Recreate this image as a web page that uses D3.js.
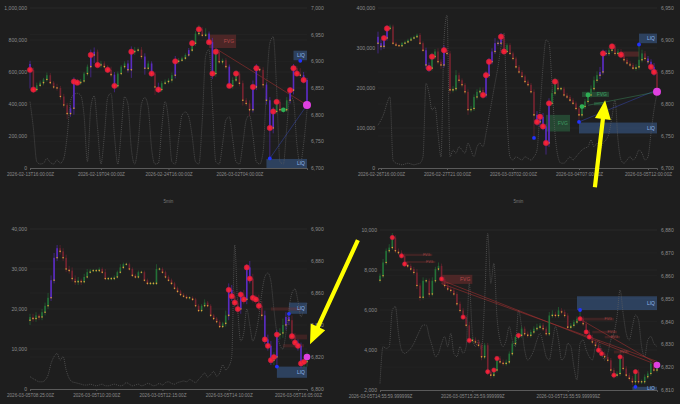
<!DOCTYPE html>
<html>
<head>
<meta charset="utf-8">
<script src="https://cdn.jsdelivr.net/npm/d3@7"></script>
<style>
  html, body { margin: 0; padding: 0; background: #1e1e1e; }
  svg { display: block; font-family: "Liberation Sans", Arial, sans-serif; }
</style>
</head>
<body>
<svg id="chart" width="680" height="404"></svg>
<script>
// ---- panel 1 : 4h ----
const p1Open0 = 6895;
const p1Close = [6884,6847,6855,6860,6866,6874,6860,6852,6850,6834,
  6818,6802,6812,6862,6860,6863,6877,6890,6912,6918,
  6893,6896,6890,6884,6875,6854,6877,6890,6896,6884,
  6918,6921,6922,6909,6887,6896,6877,6852,6847,6859,
  6862,6865,6874,6900,6902,6906,6912,6921,6934,6952,
  6960,6949,6952,6936,6877,6918,6899,6902,6890,6854,
  6865,6877,6859,6827,6821,6809,6852,6887,6884,6856,
  6827,6775,6806,6824,6809,6809,6827,6846,6887,6877,
  6874,6865,6818];
const p1Up = [6,4,5,4,3,5,4,3,6,4, 5,4,6,8,5,4,3,4,10,8, 4,5,4,3,6,5,4,3,4,6,
  10,6,4,5,6,5,4,3,8,4, 4,3,5,10,4,3,3,4,6,5, 8,4,10,4,8,6,4,3,4,4,
  5,6,4,5,4,6,12,8,4,5, 4,6,8,5,5,4,6,5,8,4, 10,6,4];
const p1Dn = [35,6,4,3,5,4,3,4,5,6, 5,10,6,12,4,4,3,4,20,15, 4,5,4,6,5,12,4,3,4,5,
  15,6,4,5,12,4,5,15,6,4, 3,4,5,6,4,3,4,3,4,5, 4,4,3,5,10,6,4,5,5,4,
  5,4,6,10,5,12,5,6,5,6, 8,57,10,4,5,5,4,6,8,4, 5,6,8];
const p1VolK = [414,250,40,25,30,60,35,25,50,30, 60,200,420,460,467,455,330,40,380,450,
  250,25,200,440,467,200,25,230,445,400, 120,25,150,400,440,380,120,25,30,250,
  415,300,40,25,180,330,350,320,200,40, 25,300,700,740,400,40,25,150,300,320,
  180,40,25,150,300,330,200,40,25,100, 500,780,820,500,40,25,250,450,420,150,
  25,150,360];
const p1Purple = [0,12,13,18,19,25,29,30,34,36,38,43,47,53,54,59,66,67,70,71,72,77,78,81,82];
const p1Red = [0,1,13,14,18,20,23,25,30,36,38,43,48,50,53,54,55,59,61,66,67,71,72,73,77,78,79,81];
const p1Green = [75];
const p1BlueIdx = [71, 80];
const p1BluePx = [6718, 6901];
const p1Zones = [
  {kind: "fvg", i0: 53, i1: 61, lo: 6925, hi: 6950, label: "FVG"},
  {kind: "liq", i0: 78, i1: 82, lo: 6902, hi: 6920, label: "LIQ"},
  {kind: "liq", i0: 70, i1: 82, lo: 6700, hi: 6717, label: "LIQ"}
];
const p1Lines = [
  {kind: "red", i0: 55, p0: 6924, i1: 82, p1: 6818},
  {kind: "blue", i0: 71, p0: 6718, i1: 82, p1: 6818}
];
const p1TimeIdx = [0, 21, 41, 62];
const p1TimeLabels = ["2026-02-13T16:00:00Z", "2026-02-19T04:00:00Z", "2026-02-24T16:00:00Z", "2026-03-02T04:00:00Z"];
const p1VolTicks = [0, 200, 400, 600, 800, 1000];
const p1PxTicks = [6700, 6750, 6800, 6850, 6900, 6950, 7000];

// ---- panel 2 : 1h ----
const p2Open0 = 6905;
const p2Close = [6895,6890,6903,6918,6921,6895,6892,6891,6895,6897,
  6900,6903,6905,6908,6895,6884,6861,6856,6874,6882,
  6866,6861,6884,6879,6822,6824,6845,6837,6830,6819,
  6791,6793,6811,6819,6822,6814,6845,6866,6882,6895,
  6895,6905,6882,6892,6879,6871,6858,6850,6843,6835,
  6830,6819,6783,6772,6780,6765,6739,6801,6817,6835,
  6824,6824,6814,6811,6806,6801,6793,6783,6796,6804,
  6814,6824,6837,6845,6850,6879,6879,6884,6890,6879,
  6882,6877,6869,6864,6861,6856,6858,6869,6879,6871,
  6866,6858,6850,6819];
const p2Up = [8,6,4,5,3,3,2,2,2,2, 2,2,2,2,3,3,4,4,6,4, 5,4,8,4,4,4,8,4,3,3,
  4,4,4,4,4,4,6,6,5,8, 4,6,4,3,3,3,3,3,3,3, 3,3,4,6,4,6,4,8,6,6,
  4,3,3,3,3,3,3,3,4,4, 5,5,6,6,8,6,5,4,4,4, 4,4,4,3,3,3,4,22,6,4, 4,4,6,4];
const p2Dn = [16,6,4,4,3,3,2,2,2,2, 2,2,2,2,3,3,6,6,4,4, 4,6,4,4,6,4,4,4,4,4,
  8,4,4,4,4,6,4,4,4,4, 4,4,4,3,3,3,3,3,3,3, 3,3,36,6,8,6,18,6,4,4,
  4,3,3,3,3,3,3,11,4,4, 4,4,4,4,6,4,4,4,4,4, 4,4,4,3,3,3,4,4,4,4, 4,6,6,6];
const p2VolK = [107,120,137,162,178,20,12,10,8,10, 12,10,8,10,12,28,212,187,145,153,
  87,28,320,382,28,45,37,53,45,37, 62,45,28,53,62,53,87,128,170,212,
  253,303,337,128,28,20,28,24,20,28, 24,20,28,45,145,253,320,312,212,87,
  28,12,12,20,28,20,28,37,45,50, 53,70,53,62,45,62,70,87,128,170,
  70,20,12,20,28,20,28,45,37,20, 28,87,145,187];
const p2Purple = [0,1,2,3,16,17,22,36,37,38,39,40,41,53,54,55,56,57,74,75,76,90,91,92];
const p2Red = [2,3,17,18,22,35,36,37,41,42,53,54,55,56,57,59,75,78,81,91,92];
const p2Green = [68, 70];
const p2BlueIdx = [52, 67, 87];
const p2BluePx = [6747, 6772, 6893];
const p2Zones = [
  {kind: "liq", i0: 87, i1: 93, lo: 6895, hi: 6910, label: "LIQ"},
  {kind: "liq", i0: 67, i1: 93, lo: 6754, hi: 6771, label: "LIQ"},
  {kind: "ob", i0: 56, i1: 64, lo: 6757, hi: 6783, label: "FVG"},
  {kind: "ob", i0: 68, i1: 77, lo: 6811, hi: 6819, label: "FVG"},
  {kind: "ob", i0: 72, i1: 76, lo: 6798, hi: 6803, label: ""},
  {kind: "fvg", i0: 81, i1: 87, lo: 6874, hi: 6882, label: ""}
];
const p2Lines = [
  {kind: "blue", i0: 67, p0: 6772, i1: 93, p1: 6822},
  {kind: "green", i0: 70, p0: 6798, i1: 93, p1: 6819}
];
const p2TimeIdx = [1, 23, 45, 67, 90];
const p2TimeLabels = ["2026-02-26T16:00:00Z", "2026-02-27T21:00:00Z", "2026-03-03T02:00:00Z", "2026-03-04T07:00:00Z", "2026-03-05T12:00:00Z"];
const p2VolTicks = [0, 100, 200, 300, 400];
const p2PxTicks = [6700, 6750, 6800, 6850, 6900, 6950];

// ---- panel 3 : 5min ----
const p3Open0 = 6843;
const p3Close = [6845,6844,6846,6845,6848,6852,6857,6868,6882,6888,
  6886,6882,6875,6874,6869,6867,6868,6867,6870,6873,
  6874,6874,6874,6875,6873,6869,6869,6869,6870,6873,
  6876,6878,6878,6875,6871,6870,6873,6873,6868,6866,
  6866,6866,6875,6875,6873,6870,6868,6866,6863,6861,
  6859,6858,6857,6857,6856,6852,6849,6852,6854,6852,
  6846,6844,6842,6839,6841,6846,6862,6858,6854,6850,
  6859,6856,6876,6869,6857,6856,6852,6846,6831,6827,
  6818,6820,6834,6835,6840,6845,6843,6833,6829,6827,
  6816,6817,6820];
const p3Up = [2,2,2,1,2,2,3,3,3,2, 2,2,2,2,2,2,2,1,2,2, 1,1,1,1,1,2,1,1,1,1,
  2,1,1,1,1,1,1,1,1,1, 1,1,3,1,1,1,1,1,1,1, 1,1,1,1,1,1,1,1,2,1,
  1,1,1,1,1,3,4,3,3,3, 2,3,2,4,3,2,3,3,3,3, 3,3,3,3,4,3,3,3,2,2, 2,3,3];
const p3Dn = [3,2,2,2,2,2,2,2,2,2, 2,2,2,2,2,2,2,2,1,1, 1,1,1,1,1,1,1,1,1,1,
  1,1,1,1,1,1,1,1,1,1, 1,1,1,1,1,1,1,1,1,1, 1,1,1,1,1,1,1,1,1,1,
  1,1,1,1,1,2,3,3,3,3, 3,3,3,3,3,3,3,3,3,3, 3,3,6,3,3,3,3,3,3,3, 3,3,3];
const p3VolK = [3.1,2.6,2.2,1.8,1.8,2.2,3.5,6.4,8.1,8.9, 7.2,8.1,4.8,2.7,1.8,1.6,1.4,1.2,1.0,1.0,
  1.2,1.0,0.8,1.0,1.2,0.8,0.8,1.0,1.2,1.0, 0.8,1.0,1.6,1.2,0.8,1.0,1.2,0.8,1.0,1.4,
  1.2,0.8,1.0,1.4,1.0,1.6,1.8,1.4,1.2,1.6, 1.8,2.0,1.8,2.4,2.0,1.6,2.4,3.2,4.0,3.0,
  3.6,4.4,3.2,4.0,6.0,4.8,5.6,8.0,36.0,20.0, 12.0,14.0,20.0,16.0,12.0,14.0,18.0,24.0,28.0,29.0,
  27.0,20.0,14.0,11.0,10.0,14.0,20.0,24.0,25.0,22.0, 18.0,20.0,21.4];
const p3Purple = [7,8,9,66,67,70,72,73,78,79,80,82,85,86,89,90];
const p3Red = [66,67,68,69,70,71,72,73,74,75,76,78,79,80,81,82,87,88,89,90,91];
const p3Green = [];
const p3BlueIdx = [82, 86];
const p3BluePx = [6814, 6847];
const p3Zones = [
  {kind: "liq", i0: 86, i1: 92, lo: 6847, hi: 6854, label: "LIQ"},
  {kind: "liq", i0: 82, i1: 92, lo: 6807, hi: 6814, label: "LIQ"},
  {kind: "fvgs", i0: 80, i1: 90, lo: 6849, hi: 6851, label: ""},
  {kind: "fvgs", i0: 86, i1: 92, lo: 6831, hi: 6834, label: ""},
  {kind: "fvgs", i0: 84, i1: 91, lo: 6826, hi: 6828, label: ""}
];
const p3Lines = [];
const p3TimeIdx = [0, 22, 44, 66, 89];
const p3TimeLabels = ["2026-03-05T08:25:00Z", "2026-03-05T10:20:00Z", "2026-03-05T12:15:00Z", "2026-03-05T14:10:00Z", "2026-03-05T16:05:00Z"];
const p3VolTicks = [0, 10, 20, 30, 40];
const p3PxTicks = [6800, 6820, 6840, 6860, 6880, 6900];

// ---- panel 4 : 1min ----
const p4Open0 = 6858;
const p4Close = [6860.0,6865.8,6870.9,6872.3,6876.7,6870.9,6870.1,6868.7,6865.1,6864.3,
  6862.9,6861.4,6855.7,6850.6,6857.8,6857.8,6852.0,6857.8,6862.9,6864.3,
  6858.6,6855.7,6854.2,6853.5,6852.0,6847.7,6844.8,6841.9,6838.3,6831.7,
  6832.0,6831.0,6829.6,6824.5,6829.6,6818.0,6816.5,6818.7,6823.8,6822.3,
  6821.6,6822.3,6825.9,6830.3,6833.2,6833.9,6836.8,6834.6,6833.9,6835.4,
  6836.8,6837.5,6838.3,6836.8,6834.6,6842.6,6843.3,6842.6,6844.8,6844.1,
  6842.6,6837.5,6838.3,6839.7,6841.2,6841.2,6839.0,6835.4,6833.2,6831.0,
  6829.6,6827.4,6825.9,6824.5,6823.0,6818.7,6816.5,6817.2,6824.5,6819.4,
  6816.5,6815.1,6813.6,6818.0,6813.6,6813.6,6815.8,6817.2,6821.6,6818.7,
  6820.9];
const p4Up = [1,1.5,1,1.5,2,1,1,1,1,1, 1,1,1.5,1,1.5,1,1,1.5,1,1.5, 1,1,1,1,1,1,1,1,1,1.5,
  1,1,1,1,1,1,1,1,1,1, 1,1,1,1,1,1,1,1,1,1, 1,1.5,1,1,1,1.5,1.5,1,1.5,1,
  1,1,1,1,1,3.8,1,1,1,1, 1,1,1,1,1,1,1,1,1.5,1, 1,1,1,1,1,1,1,1,1.5,1, 1.5];
const p4Dn = [1,1,1,1,1,1,1,1,1,1, 1,1,1.5,1.5,1,1,1.5,1,1,1, 1,1,1,1,1,1,1,1,1,1.5,
  1,1,1,1.5,1,1.5,1.5,1,1,1, 1,1,1,1,1,1,1,1,1,1, 1,1,1,1,1,1,1,1,1,1,
  1,1,1,1,1,1,1,1,1,1, 1,1,1,1,1,1.5,1.5,1,1,1, 1,1,1.5,2.2,1,1,1,1,1,1, 1];
const p4VolK = [2.33,4.17,4.08,4.17,6.0,6.17,4.83,4.0,3.83,3.92, 4.08,4.33,4.67,5.0,5.25,5.25,4.67,4.17,3.67,3.83,
  4.33,4.67,4.17,4.83,3.83,3.67,4.17,3.83,4.17,7.33, 4.83,4.17,4.5,4.0,6.5,9.83,7.33,8.33,5.67,4.5,
  4.17,4.5,5.17,4.5,4.17,6.0,5.17,4.0,3.5,3.67, 4.0,4.5,4.83,4.33,3.67,3.5,4.33,5.17,4.5,3.5,
  3.67,4.33,4.17,3.17,2.5,4.33,4.5,4.0,3.67,3.5, 4.17,4.5,3.83,3.5,3.83,4.5,4.83,5.67,7.0,5.83,
  4.83,4.5,5.17,5.75,5.5,4.17,3.67,4.5,4.67,4.33, 4.17];
const p4Purple = [];
const p4Red = [4,7,8,20,27,29,35,37,38,45,65,67,68,71,72,76,78,83];
const p4Green = [];
const p4BlueIdx = [65, 83];
const p4BluePx = [6845, 6811.4];
const p4Zones = [
  {kind: "liq", i0: 64, i1: 90, lo: 6845, hi: 6851, label: "LIQ"},
  {kind: "liq", i0: 82, i1: 90, lo: 6809.7, hi: 6811.4, label: "LIQ"},
  {kind: "fvg", i0: 20, i1: 30, lo: 6856.4, hi: 6860.4, label: "FVG"},
  {kind: "fvgs", i0: 8, i1: 17, lo: 6868.6, hi: 6869.6, label: "FVG"},
  {kind: "fvgs", i0: 8, i1: 18, lo: 6865.6, hi: 6866.4, label: "FVG"},
  {kind: "fvgs", i0: 65, i1: 76, lo: 6840.4, hi: 6841.6, label: "FVG"},
  {kind: "fvgs", i0: 69, i1: 77, lo: 6834.8, hi: 6835.9, label: "FVG"},
  {kind: "fvgs", i0: 73, i1: 78, lo: 6832.6, hi: 6833.6, label: "FVG"},
  {kind: "fvgs", i0: 76, i1: 81, lo: 6826.0, hi: 6827.2, label: "FVG"}
];
const p4Lines = [
  {kind: "red", i0: 20, p0: 6858, i1: 90, p1: 6821},
  {kind: "red", i0: 20, p0: 6856.5, i1: 90, p1: 6822.5},
  {kind: "red", i0: 65, p0: 6841, i1: 90, p1: 6821.5}
];
const p4TimeIdx = [0, 30, 61];
const p4TimeLabels = ["2026-03-05T14:55:59.999999Z", "2026-03-05T15:25:59.999999Z", "2026-03-05T15:55:59.999999Z"];
const p4VolTicks = [2, 4, 6, 8, 10];
const p4PxTicks = [6810, 6820, 6830, 6840, 6850, 6860, 6870, 6880];

// yellow call-out arrows, in data units of the panel they start in
const arrows = [
  {panel: 1, i0: 72.3, p0: 6670, i1: 75.7, p1: 6806},
  {panel: 2, i0: 108.9, p0: 6893, i1: 93.0, p1: 6828}
];

const C = {
  up: "#237238", down: "#742330", purple: "#5a2cc0", dot: "#d9a03a",
  red: "#ff1f35", blue: "#2233ff", magenta: "#e040e0", greenDot: "#2fae55",
  text: "#8a8a8a", axis: "#5a5a5a", vol: "#5e5e5e"
};
const zoneStyle = {
  liq: {fill: "#3a5f93", op: 0.55, txt: "#8fb4ea"},
  fvg: {fill: "#7a2e2e", op: 0.5, txt: "#b34a4a"},
  fvgs: {fill: "#7a2e2e", op: 0.35, txt: "#a04545"},
  ob: {fill: "#2f7a4c", op: 0.45, txt: "#3f9a62"}
};
const lineStyle = {
  red: {stroke: "#b83232", op: 0.7},
  blue: {stroke: "#3a4fd0", op: 0.6},
  green: {stroke: "#3f9a62", op: 0.6}
};

const panels = [
  {close: p1Close, open0: p1Open0, up: p1Up, dn: p1Dn, vol: p1VolK, purple: p1Purple, red: p1Red, green: p1Green,
   blueIdx: p1BlueIdx, bluePx: p1BluePx, zones: p1Zones, lines: p1Lines, timeIdx: p1TimeIdx, timeLabels: p1TimeLabels,
   volTicks: p1VolTicks, pxTicks: p1PxTicks, x0: 30, x1: 307, yT: 8, yB: 168, r: 2.7, rm: 4, title: null},
  {close: p2Close, open0: p2Open0, up: p2Up, dn: p2Dn, vol: p2VolK, purple: p2Purple, red: p2Red, green: p2Green,
   blueIdx: p2BlueIdx, bluePx: p2BluePx, zones: p2Zones, lines: p2Lines, timeIdx: p2TimeIdx, timeLabels: p2TimeLabels,
   volTicks: p2VolTicks, pxTicks: p2PxTicks, x0: 378, x1: 657, yT: 8, yB: 168, r: 2.7, rm: 4, title: null},
  {close: p3Close, open0: p3Open0, up: p3Up, dn: p3Dn, vol: p3VolK, purple: p3Purple, red: p3Red, green: p3Green,
   blueIdx: p3BlueIdx, bluePx: p3BluePx, zones: p3Zones, lines: p3Lines, timeIdx: p3TimeIdx, timeLabels: p3TimeLabels,
   volTicks: p3VolTicks, pxTicks: p3PxTicks, x0: 30, x1: 307, yT: 229, yB: 389, r: 2.6, rm: 3.3, title: "5min"},
  {close: p4Close, open0: p4Open0, up: p4Up, dn: p4Dn, vol: p4VolK, purple: p4Purple, red: p4Red, green: p4Green,
   blueIdx: p4BlueIdx, bluePx: p4BluePx, zones: p4Zones, lines: p4Lines, timeIdx: p4TimeIdx, timeLabels: p4TimeLabels,
   volTicks: p4VolTicks, pxTicks: p4PxTicks, x0: 380, x1: 657, yT: 230, yB: 390, r: 2.2, rm: 3.3, title: "5min"}
];

const svg = d3.select("#chart");
svg.append("rect").attr("width", 680).attr("height", 404).attr("fill", "#1e1e1e");

const scales = [];

function drawPanel(cfg) {
  const g = svg.append("g");
  const n = cfg.close.length;
  const x = d3.scaleLinear().domain([0, n - 1]).range([cfg.x0, cfg.x1]);
  const yP = d3.scaleLinear().domain(d3.extent(cfg.pxTicks)).range([cfg.yB, cfg.yT]);
  const yV = d3.scaleLinear().domain(d3.extent(cfg.volTicks)).range([cfg.yB, cfg.yT]);
  scales.push({x, yP});

  const rows = cfg.close.map((c, i) => {
    const o = i ? cfg.close[i - 1] : cfg.open0;
    return {i, o, c, h: Math.max(o, c) + cfg.up[i], l: Math.min(o, c) - cfg.dn[i], v: cfg.vol[i]};
  });
  const purple = new Set(cfg.purple);
  const col = d => purple.has(d.i) ? C.purple : (d.c >= d.o ? C.up : C.down);

  // faint grid
  g.append("g").selectAll("line").data(cfg.volTicks.slice(1)).join("line")
    .attr("x1", cfg.x0).attr("x2", cfg.x1).attr("y1", d => yV(d)).attr("y2", d => yV(d))
    .attr("stroke", "#fff").attr("stroke-opacity", 0.03);
  g.append("g").selectAll("line").data(cfg.pxTicks.slice(1)).join("line")
    .attr("x1", cfg.x0).attr("x2", cfg.x1).attr("y1", d => yP(d)).attr("y2", d => yP(d))
    .attr("stroke", "#fff").attr("stroke-opacity", 0.025);

  // zones
  g.append("g").selectAll("rect").data(cfg.zones).join("rect")
    .attr("x", d => x(d.i0)).attr("width", d => x(d.i1) - x(d.i0))
    .attr("y", d => yP(d.hi)).attr("height", d => Math.max(0.8, yP(d.lo) - yP(d.hi)))
    .attr("fill", d => zoneStyle[d.kind].fill).attr("fill-opacity", d => zoneStyle[d.kind].op);

  // volume line, faint and dotted
  const vline = d3.line().x(d => x(d.i)).y(d => yV(d.v)).curve(d3.curveMonotoneX);
  g.append("path").datum(rows).attr("d", vline)
    .attr("fill", "none").attr("stroke", C.vol).attr("stroke-width", 0.7)
    .attr("stroke-dasharray", "1,1");

  // structure lines
  g.append("g").selectAll("line").data(cfg.lines).join("line")
    .attr("x1", d => x(d.i0)).attr("y1", d => yP(d.p0)).attr("x2", d => x(d.i1)).attr("y2", d => yP(d.p1))
    .attr("stroke", d => lineStyle[d.kind].stroke).attr("stroke-opacity", d => lineStyle[d.kind].op)
    .attr("stroke-width", 0.7);

  // candles
  const bw = 1.6;
  const cg = g.append("g");
  cg.selectAll("line").data(rows).join("line")
    .attr("x1", d => x(d.i)).attr("x2", d => x(d.i)).attr("y1", d => yP(d.h)).attr("y2", d => yP(d.l))
    .attr("stroke", col).attr("stroke-width", 0.6);
  cg.selectAll("rect").data(rows).join("rect")
    .attr("x", d => x(d.i) - bw / 2).attr("width", bw)
    .attr("y", d => yP(Math.max(d.o, d.c)))
    .attr("height", d => Math.max(0.8, Math.abs(yP(d.o) - yP(d.c))))
    .attr("fill", col);

  // small close markers
  g.append("g").selectAll("circle").data(rows).join("circle")
    .attr("cx", d => x(d.i)).attr("cy", d => yP(Math.min(d.o, d.c))).attr("r", 0.8)
    .attr("fill", C.dot);

  // event markers
  const redRows = cfg.red.map(i => rows[i]);
  g.append("g").selectAll("circle").data(redRows).join("circle")
    .attr("cx", d => x(d.i)).attr("cy", d => yP(d.c)).attr("r", cfg.r)
    .attr("fill", C.red).attr("fill-opacity", 0.9)
    .attr("stroke", "#c0204a").attr("stroke-width", 0.5);
  g.append("g").selectAll("circle").data(cfg.green.map(i => rows[i])).join("circle")
    .attr("cx", d => x(d.i)).attr("cy", d => yP(d.c)).attr("r", cfg.r * 0.9)
    .attr("fill", C.greenDot);
  g.append("g").selectAll("circle").data(cfg.blueIdx).join("circle")
    .attr("cx", d => x(d)).attr("cy", (d, k) => yP(cfg.bluePx[k])).attr("r", 1.9)
    .attr("fill", C.blue);
  const last = rows[n - 1];
  g.append("circle").attr("cx", x(last.i)).attr("cy", yP(last.c)).attr("r", cfg.rm)
    .attr("fill", C.magenta);

  // zone labels
  g.append("g").selectAll("text").data(cfg.zones.filter(d => d.label)).join("text")
    .attr("x", d => x(d.i1) - 2).attr("y", d => (yP(d.hi) + yP(d.lo)) / 2)
    .attr("dy", "0.35em").attr("text-anchor", "end")
    .attr("font-size", d => d.kind === "fvgs" ? 3.6 : 5)
    .attr("fill", d => zoneStyle[d.kind].txt).text(d => d.label);

  // axes
  const fmt = d3.format(",");
  const left = g.append("g").attr("transform", `translate(${cfg.x0},0)`)
    .call(d3.axisLeft(yV).tickValues(cfg.volTicks).tickFormat(d => fmt(d * 1000)).tickSize(0).tickPadding(3));
  const right = g.append("g").attr("transform", `translate(${cfg.x1},0)`)
    .call(d3.axisRight(yP).tickValues(cfg.pxTicks).tickFormat(fmt).tickSize(0).tickPadding(4));
  const bottom = g.append("g").attr("transform", `translate(0,${cfg.yB})`)
    .call(d3.axisBottom(x).tickValues(cfg.timeIdx).tickFormat((d, k) => cfg.timeLabels[k]).tickSize(2).tickPadding(3));
  [left, right].forEach(a => a.select(".domain").remove());
  bottom.select(".domain").attr("stroke", C.axis);
  bottom.selectAll(".tick line").attr("stroke", C.axis);
  [left, right].forEach(a => a.selectAll("text").attr("font-size", 5.1).attr("fill", C.text));
  bottom.selectAll("text").attr("font-size", 4.6).attr("fill", C.text);
  g.selectAll("g[font-family]").attr("font-family", null);

  if (cfg.title) {
    g.append("text").attr("x", (cfg.x0 + cfg.x1) / 2).attr("y", 203)
      .attr("text-anchor", "middle").attr("font-size", 4.5).attr("fill", "#7a7a7a").text(cfg.title);
  }
}

panels.forEach(drawPanel);

// call-out arrows on top
function drawArrow(a) {
  const s = scales[a.panel];
  const xa = s.x(a.i0), ya = s.yP(a.p0), xb = s.x(a.i1), yb = s.yP(a.p1);
  const dx = xb - xa, dy = yb - ya, L = Math.hypot(dx, dy);
  const ux = dx / L, uy = dy / L, px = -uy, py = ux;
  const hl = 19, hw = 8, sw = 2.1;
  const bx = xb - ux * hl, by = yb - uy * hl;
  const pts = [
    [xa + px * sw, ya + py * sw], [bx + px * sw, by + py * sw], [bx + px * hw, by + py * hw],
    [xb, yb], [bx - px * hw, by - py * hw], [bx - px * sw, by - py * sw], [xa - px * sw, ya - py * sw]
  ];
  svg.append("path").attr("d", d3.line()(pts) + "Z").attr("fill", "#ffff00");
}
arrows.forEach(drawArrow);
</script>
</body>
</html>
